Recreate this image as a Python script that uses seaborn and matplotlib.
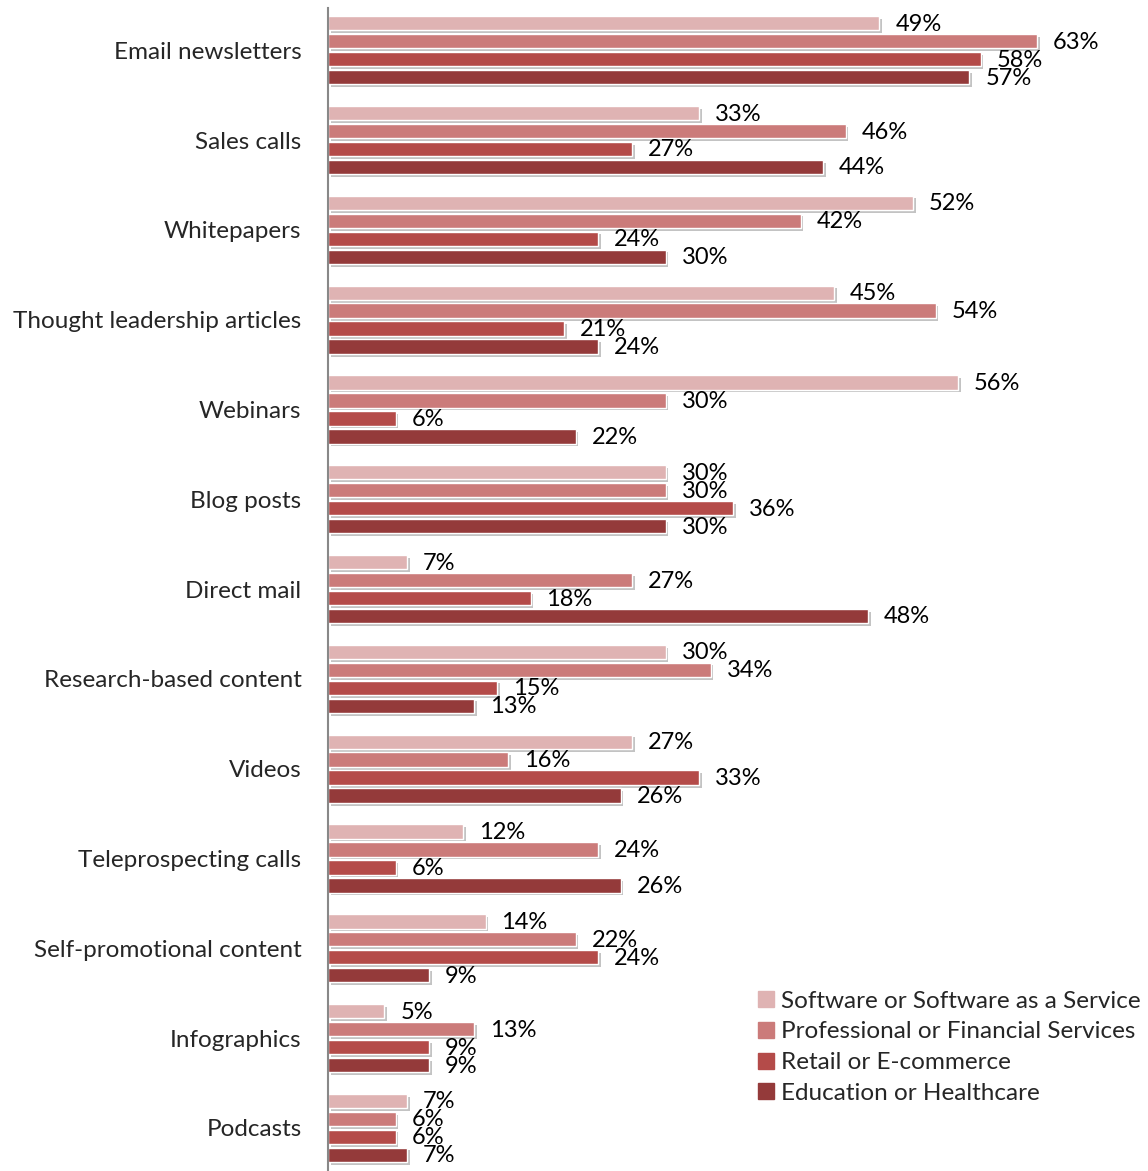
import matplotlib
matplotlib.use("Agg")
import matplotlib.pyplot as plt
import matplotlib.patheffects as pe
import seaborn as sns
import pandas as pd

# data
categories = ['Email newsletters', 'Sales calls', 'Whitepapers', 'Thought leadership articles',
              'Webinars', 'Blog posts', 'Direct mail', 'Research-based content', 'Videos',
              'Teleprospecting calls', 'Self-promotional content', 'Infographics', 'Podcasts']
industries = ['Software or Software as a Service', 'Professional or Financial Services',
              'Retail or E-commerce', 'Education or Healthcare']
software = [49, 33, 52, 45, 56, 30, 7, 30, 27, 12, 14, 5, 7]
professional = [63, 46, 42, 54, 30, 30, 27, 34, 16, 24, 22, 13, 6]
retail = [58, 27, 24, 21, 6, 36, 18, 15, 33, 6, 24, 9, 6]
education = [57, 44, 30, 24, 22, 30, 48, 13, 26, 26, 9, 9, 7]
colors = ['#DFB3B3', '#CB7B7A', '#B44B49', '#943A3A']

rows = []
for ind, vals in zip(industries, [software, professional, retail, education]):
    for cat, v in zip(categories, vals):
        rows.append({'Category': cat, 'Industry': ind, 'Value': v})
df = pd.DataFrame(rows)

sns.set_style('white')
plt.rcParams['font.family'] = ['Lato', 'DejaVu Sans']

fig = plt.figure(figsize=(11.48, 11.71), dpi=100)
ax = fig.add_axes([328 / 1148, 0, 1 - 328 / 1148, (1171 - 8) / 1171])

sns.barplot(data=df, y='Category', x='Value', hue='Industry', order=categories,
            hue_order=industries, palette=colors, orient='h', width=0.8, gap=0.2,
            saturation=1, edgecolor='white', linewidth=1, legend=False, ax=ax)

shadow = [pe.SimplePatchShadow(offset=(2, -2), shadow_rgbFace='#888888', alpha=0.5), pe.Normal()]
for cont in ax.containers:
    for bar in cont:
        bar.set_path_effects(shadow)
    for bar in cont:
        w = bar.get_width()
        ax.annotate(f'{w:.0f}%', (w, bar.get_y() + bar.get_height() / 2),
                    xytext=(16, -1), textcoords='offset pixels', ha='left', va='center',
                    fontsize=17, color='black')

ax.set_xlim(0, (1148 - 328) / 11.25)
ax.set_ylim(12.48, -0.47)
ax.set_xlabel('')
ax.set_ylabel('')
ax.set_xticks([])
ax.tick_params(axis='y', length=0, pad=19, labelsize=17.5)
for s in ['top', 'right', 'bottom']:
    ax.spines[s].set_visible(False)
ax.spines['left'].set_color('#888888')
ax.spines['left'].set_linewidth(1.5)

handles = [plt.Line2D([], [], marker='s', linestyle='', markersize=11, color=c) for c in colors]
fig.legend(handles, industries, loc='upper left', bbox_to_anchor=(0.657, 0.154), frameon=False,
           fontsize=17.5, handletextpad=0.1, labelspacing=0.4, borderaxespad=0, borderpad=0,
           handlelength=1)

fig.savefig('out.png', dpi=100)
